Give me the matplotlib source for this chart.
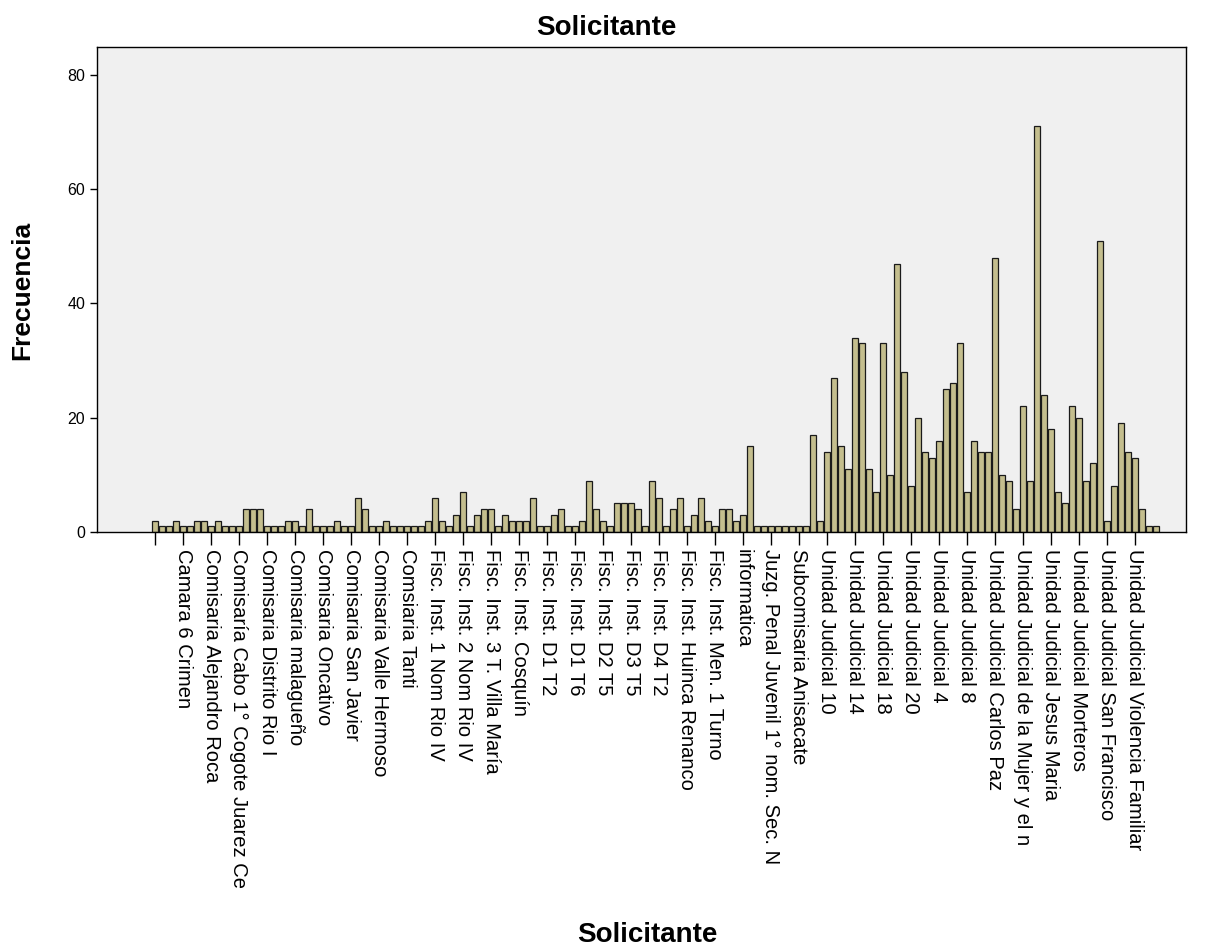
import matplotlib.pyplot as plt
import numpy as np

# frequency per "Solicitante" category (alphabetical order, 144 categories)
counts = [
    2, 1, 1, 2, 1, 1, 2, 2, 1, 2, 1, 1, 1, 4,
    4, 4, 1, 1, 1, 2, 2, 1, 4, 1, 1, 1, 2, 1,
    1, 6, 4, 1, 1, 2, 1, 1, 1, 1, 1, 2, 6, 2,
    1, 3, 7, 1, 3, 4, 4, 1, 3, 2, 2, 2, 6, 1,
    1, 3, 4, 1, 1, 2, 9, 4, 2, 1, 5, 5, 5, 4,
    1, 9, 6, 1, 4, 6, 1, 3, 6, 2, 1, 4, 4, 2,
    3, 15, 1, 1, 1, 1, 1, 1, 1, 1, 17, 2, 14, 27,
    15, 11, 34, 33, 11, 7, 33, 10, 47, 28, 8, 20, 14, 13,
    16, 25, 26, 33, 7, 16, 14, 14, 48, 10, 9, 4, 22, 9,
    71, 24, 18, 7, 5, 22, 20, 9, 12, 51, 2, 8, 19, 14, 13, 4, 1, 1,
]

# only every 4th category gets a label on the axis
tick_labels = [
    "", "Camara 6 Crimen", "Comisaria Alejandro Roca",
    "Comisaría Cabo 1° Cogote Juarez Ce", "Comisaria Distrito Rio I",
    "Comisaria malagueño", "Comisaria Oncativo", "Comisaria San Javier",
    "Comisaria Valle Hermoso", "Comsiaria Tanti", "Fisc. Inst. 1 Nom Rio IV",
    "Fisc. Inst. 2 Nom Rio IV", "Fisc. Inst. 3 T. Villa María",
    "Fisc. Inst. Cosquín", "Fisc. Inst. D1 T2", "Fisc. Inst. D1 T6",
    "Fisc. Inst. D2 T5", "Fisc. Inst. D3 T5", "Fisc. Inst. D4 T2",
    "Fisc. Inst. Huinca Renanco", "Fisc. Inst. Men. 1 Turno", "informatica",
    "Juzg. Penal Juvenil 1° nom. Sec. N", "Subcomisaria Anisacate",
    "Unidad Judicial 10", "Unidad Judicial 14", "Unidad Judicial 18",
    "Unidad Judicial 20", "Unidad Judicial 4", "Unidad Judicial 8",
    "Unidad Judicial Carlos Paz", "Unidad Judicial de la Mujer y el n",
    "Unidad Judicial Jesus Maria", "Unidad Judicial Morteros",
    "Unidad Judicial San Francisco", "Unidad Judicial Violencia Familiar",
]
label_step = 4

plt.rcParams['font.family'] = ['Liberation Sans', 'DejaVu Sans']

fig = plt.figure(figsize=(12.21, 9.51), dpi=100)
ax = fig.add_axes([97 / 1221, 1 - 532 / 951, (1186 - 97) / 1221, (532 - 47) / 951])
ax.set_facecolor('#F0F0F0')

x = np.arange(len(counts))
ax.bar(x, counts, width=0.8, color='#C4BE8E', edgecolor='#1a1a1a', linewidth=0.9)

ax.set_xlim(-8.29, 147.29)
ax.set_ylim(0, 84.9)

ax.set_xticks(x[::label_step])
ax.set_xticklabels(tick_labels, rotation=-90, va='top', ha='center', fontsize=14.5)
ax.set_yticks([0, 20, 40, 60, 80])
ax.tick_params(axis='x', length=9, width=1, pad=3)
ax.tick_params(axis='y', length=5, width=1, labelsize=11.5)
for spine in ax.spines.values():
    spine.set_linewidth(1)

fig.text(606 / 1221, 1 - 28 / 951, "Solicitante", ha='center', va='center',
         fontsize=20, fontweight='bold')
fig.text(647 / 1221, 1 - 935 / 951, "Solicitante", ha='center', va='center',
         fontsize=20, fontweight='bold')
fig.text(22 / 1221, 1 - 290 / 951, "Frecuencia", ha='center', va='center',
         rotation=90, fontsize=19, fontweight='bold')

fig.savefig("out.png", dpi=100)
